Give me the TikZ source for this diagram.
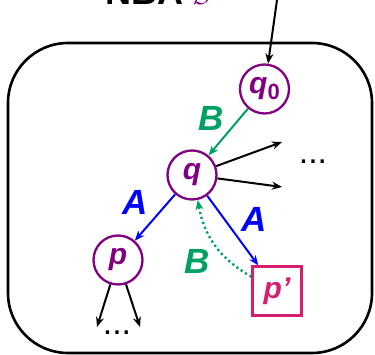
\documentclass[tikz,border=0pt]{standalone}
\usepackage{fontspec}
\setsansfont{Liberation Sans}
\usetikzlibrary{arrows.meta}
\definecolor{vpurple}{RGB}{128,0,128}
\definecolor{vgreen}{RGB}{0,160,100}
\definecolor{vpink}{RGB}{214,30,110}
\definecolor{vblue}{RGB}{0,0,255}
\begin{document}
\begin{tikzpicture}[x=1pt,y=1pt,
  state/.style={circle,draw=vpurple,line width=2.3pt,minimum size=49pt,inner sep=0pt,
    text=vpurple,font=\sffamily\bfseries\itshape\fontsize{30}{30}\selectfont},
  accstate/.style={rectangle,draw=vpink,line width=2.3pt,minimum size=49pt,inner sep=0pt,
    text=vpink,font=\sffamily\bfseries\itshape\fontsize{30}{30}\selectfont},
  lbl/.style={font=\sffamily\bfseries\itshape\fontsize{35}{35}\selectfont,inner sep=0pt},
  tr/.style={line width=2pt,-{Stealth[length=10pt,width=8pt]}},
  dots/.style={font=\sffamily\fontsize{34}{34}\selectfont,inner sep=0pt}]
\useasboundingbox (0,0) rectangle (375,355);
% automaton frame
\draw[line width=2.6pt,rounded corners=60pt] (8,2) rectangle (372,312);
% title (cut at the top)
\node[anchor=base west,inner sep=0pt,font=\sffamily\bfseries\fontsize{36}{36}\selectfont] (title) at (105,350) {NBA \textcolor{vpurple}{$\mathcal{B}$}};
% states
\node[state] (q0) at (264.5,266) {q\raisebox{-6pt}{\upshape\fontsize{22}{22}\selectfont 0}};
\node[state] (q) at (192,180) {q};
\node[state] (p) at (118,95) {p};
\node[accstate] (pp) at (277,64) {p'};
% free ends
\coordinate (init) at (278,362);
\coordinate (r1) at (282,213);
\coordinate (r2) at (282,168);
\coordinate (d1) at (97,28);
\coordinate (d2) at (140,28);
% dots
\node[dots,anchor=base] (dr) at (313,191) {...};
\node[dots,anchor=base] (dd) at (117,20) {...};
% transitions
\draw[tr] (init) -- (q0);
\draw[tr,vgreen] (q0) -- (q);
\draw[tr] (q) -- (r1);
\draw[tr] (q) -- (r2);
\draw[tr,vblue] (q) -- (p);
\draw[tr,vblue] (q) -- (pp);
\draw[tr] (p) -- (d1);
\draw[tr] (p) -- (d2);
\draw[tr,vgreen,line width=2.4pt,dash pattern=on 2.2pt off 3pt] (pp.151) to[out=150,in=280] (q.283);
% labels
\node[lbl,text=vgreen] (lb1) at (211,237) {B};
\node[lbl,text=vblue] (la1) at (135,153) {A};
\node[lbl,text=vblue] (la2) at (254,136) {A};
\node[lbl,text=vgreen] (lb2) at (197,94) {B};
\end{tikzpicture}
\end{document}
